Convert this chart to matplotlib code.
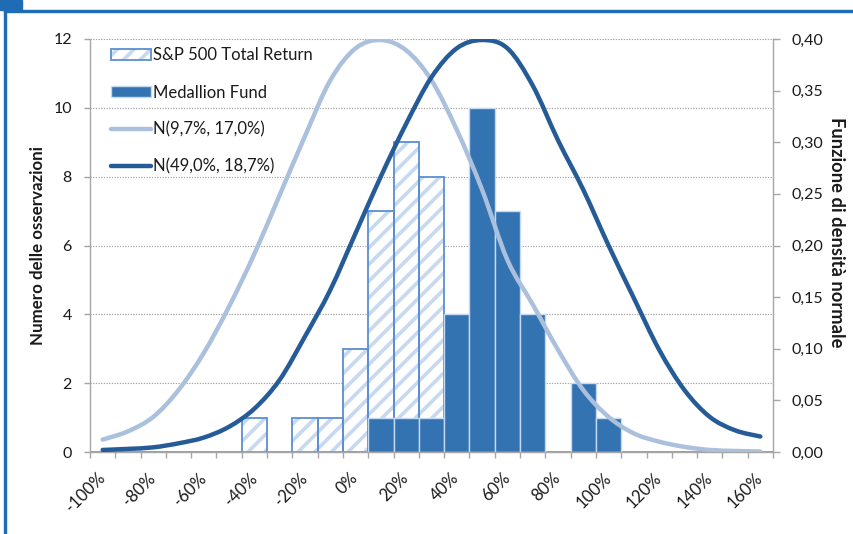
import matplotlib
matplotlib.use("Agg")
import matplotlib.pyplot as plt
from matplotlib.patches import Patch, Rectangle, PathPatch
from matplotlib.path import Path
from matplotlib.lines import Line2D
from matplotlib.legend_handler import HandlerTuple
import numpy as np

plt.rcParams['font.family'] = ['Lato', 'DejaVu Sans']
plt.rcParams['hatch.linewidth'] = 2.6

# ---- data ----
returns = [-100, -90, -80, -70, -60, -50, -40, -30, -20, -10, 0, 10, 20, 30,
           40, 50, 60, 70, 80, 90, 100, 110, 120, 130, 140, 150, 160]
sp500_counts = [0, 0, 0, 0, 0, 0, 1, 0, 1, 1, 3, 7, 9, 8,
                0, 0, 0, 0, 0, 0, 0, 0, 0, 0, 0, 0, 0]
medallion_counts = [0, 0, 0, 0, 0, 0, 0, 0, 0, 0, 0, 1, 1, 1,
                    4, 10, 7, 4, 0, 2, 1, 0, 0, 0, 0, 0, 0]
normal_sp500 = [0.012, 0.020, 0.034, 0.060, 0.096, 0.141, 0.192, 0.249, 0.306,
                0.360, 0.391, 0.399, 0.389, 0.360, 0.312, 0.254, 0.186, 0.143,
                0.099, 0.060, 0.034, 0.018, 0.010, 0.005, 0.002, 0.001, 0.0005]
normal_medallion = [0.002, 0.003, 0.0045, 0.0084, 0.014, 0.0245, 0.042, 0.070,
                    0.112, 0.157, 0.212, 0.267, 0.318, 0.363, 0.391, 0.399,
                    0.391, 0.355, 0.302, 0.254, 0.200, 0.149, 0.099, 0.060,
                    0.034, 0.021, 0.015]
series_names = ['S&P 500 Total Return', 'Medallion Fund',
                'N(9,7%, 17,0%)', 'N(49,0%, 18,7%)']
left_ticks = [0, 2, 4, 6, 8, 10, 12]
right_ticks = [0.0, 0.05, 0.10, 0.15, 0.20, 0.25, 0.30, 0.35, 0.40]

# ---- style ----
stripe_c = '#C6D9F1'
hatch_edge = '#5A8FD2'
solid_c = '#3473B2'
solid_edge = '#C5DAF0'
light_c = '#AAC0DD'
dark_c = '#255B96'
axis_c = '#A6A6A6'
txt_c = '#1A1A1A'


def smooth_path(xs, ys):
    """Excel-like smoothed line (Catmull-Rom as cubic Bezier) through points."""
    pts = np.column_stack([xs, ys]).astype(float)
    verts = [pts[0]]
    codes = [Path.MOVETO]
    n = len(pts)
    for i in range(n - 1):
        p0 = pts[i - 1] if i > 0 else pts[i]
        p1 = pts[i]
        p2 = pts[i + 1]
        p3 = pts[i + 2] if i + 2 < n else pts[i + 1]
        verts += [p1 + (p2 - p0) / 6.0, p2 - (p3 - p1) / 6.0, p2]
        codes += [Path.CURVE4] * 3
    return Path(verts, codes)


W, H = 854, 534
fig = plt.figure(figsize=(W / 100, H / 100), dpi=100)
L, R, T, B = 90, 773, 39, 452
ax = fig.add_axes([L / W, 1 - B / H, (R - L) / W, (B - T) / H])
x = np.arange(len(returns))

ax.set_xlim(-0.5, len(returns) - 0.5)
ax.set_ylim(0, 12)

# grid
for v in left_ticks[1:]:
    ax.axhline(v, color=axis_c, lw=0.8, ls=(0, (1.2, 1.2)), zorder=0.5)

# hatched S&P bars
ax.bar(x, sp500_counts, width=1.0, color='white', edgecolor=stripe_c,
       hatch='//', linewidth=0, zorder=1)
ax.bar(x, sp500_counts, width=1.0, fill=False, edgecolor=hatch_edge,
       linewidth=1.3, zorder=1.1)
# solid Medallion bars
ax.bar(x, medallion_counts, width=1.0, color=solid_c, edgecolor=solid_edge,
       linewidth=1.0, zorder=2)

# axes styling
for s in ['top', 'right']:
    ax.spines[s].set_visible(False)
for s in ['left', 'bottom']:
    ax.spines[s].set_color(axis_c)
    ax.spines[s].set_linewidth(1.0)

ax.set_yticks(left_ticks)
ax.set_yticklabels([str(v) for v in left_ticks])
ax.tick_params(axis='y', direction='out', length=4, width=1, color=axis_c,
               pad=9, labelsize=11.5, labelcolor=txt_c)

ax.set_xticks(np.arange(len(returns) + 1) - 0.5)
ax.set_xticklabels([])
ax.tick_params(axis='x', which='major', direction='out', length=4, width=1,
               color=axis_c)
ax.set_xticks(x[::2], minor=True)
ax.set_xticklabels(['%d%%' % r for r in returns[::2]], minor=True,
                   rotation=45, ha='right', va='center',
                   rotation_mode='anchor', fontsize=12, color=txt_c)
ax.tick_params(axis='x', which='minor', length=0, pad=17)

# secondary axis
ax2 = ax.twinx()
ax2.set_ylim(0, 0.40)
ax2.set_xlim(-0.5, len(returns) - 0.5)
for s in ['top', 'left', 'bottom']:
    ax2.spines[s].set_visible(False)
ax2.spines['right'].set_color(axis_c)
ax2.spines['right'].set_linewidth(1.0)
ax2.set_yticks(right_ticks)
ax2.set_yticklabels([('%.2f' % v).replace('.', ',') for v in right_ticks])
ax2.tick_params(axis='y', direction='out', length=5, width=1, color=axis_c,
                pad=8, labelsize=11.5, labelcolor=txt_c)

ax2.add_patch(PathPatch(smooth_path(x, normal_sp500), fill=False,
                        edgecolor=light_c, lw=3.2, capstyle='round',
                        joinstyle='round', zorder=3))
ax2.add_patch(PathPatch(smooth_path(x, normal_medallion), fill=False,
                        edgecolor=dark_c, lw=3.2, capstyle='round',
                        joinstyle='round', zorder=4))

# axis titles
fig.text(38.5 / W, 1 - 245.5 / H, 'Numero delle osservazioni', rotation=90,
         ha='center', va='center', fontsize=12.2, fontweight='bold',
         color=txt_c)
fig.text(837 / W, 1 - 232 / H, 'Funzione di densità normale', rotation=270,
         ha='center', va='center', fontsize=13.2, fontweight='bold',
         color=txt_c)

# legend
h_sp = (Patch(facecolor='white', edgecolor=stripe_c, hatch='//', linewidth=0),
        Patch(fill=False, edgecolor=hatch_edge, linewidth=1.3))
h_md = Patch(facecolor=solid_c, edgecolor=solid_edge, linewidth=1.0)
h_l1 = Line2D([], [], color=light_c, lw=3.2, solid_capstyle='round')
h_l2 = Line2D([], [], color=dark_c, lw=3.2, solid_capstyle='round')
leg = ax2.legend([h_sp, h_md, h_l1, h_l2], series_names,
                 handler_map={tuple: HandlerTuple(ndivide=1)},
                 loc='upper left', bbox_to_anchor=(111 / W, 1 - 47.5 / H),
                 bbox_transform=fig.transFigure, frameon=False,
                 borderpad=0, borderaxespad=0, handlelength=2.4,
                 handleheight=0.6, handletextpad=0.15, labelspacing=1.26,
                 fontsize=12)
for t in leg.get_texts():
    t.set_color(txt_c)

# frame decoration (report layout)
fig.patches.append(Rectangle((4 / W, 0), 2 / W, 1 - 10 / H,
                             transform=fig.transFigure, color='#1F6BB5'))
fig.patches.append(Rectangle((4 / W, 1 - 12 / H), 1 - 4 / W, 2 / H,
                             transform=fig.transFigure, color='#1F6BB5'))
fig.patches.append(Rectangle((0, 1 - 10 / H), 22 / W, 10 / H,
                             transform=fig.transFigure, color='#1F6BB5'))

fig.savefig('out.png', dpi=100)
